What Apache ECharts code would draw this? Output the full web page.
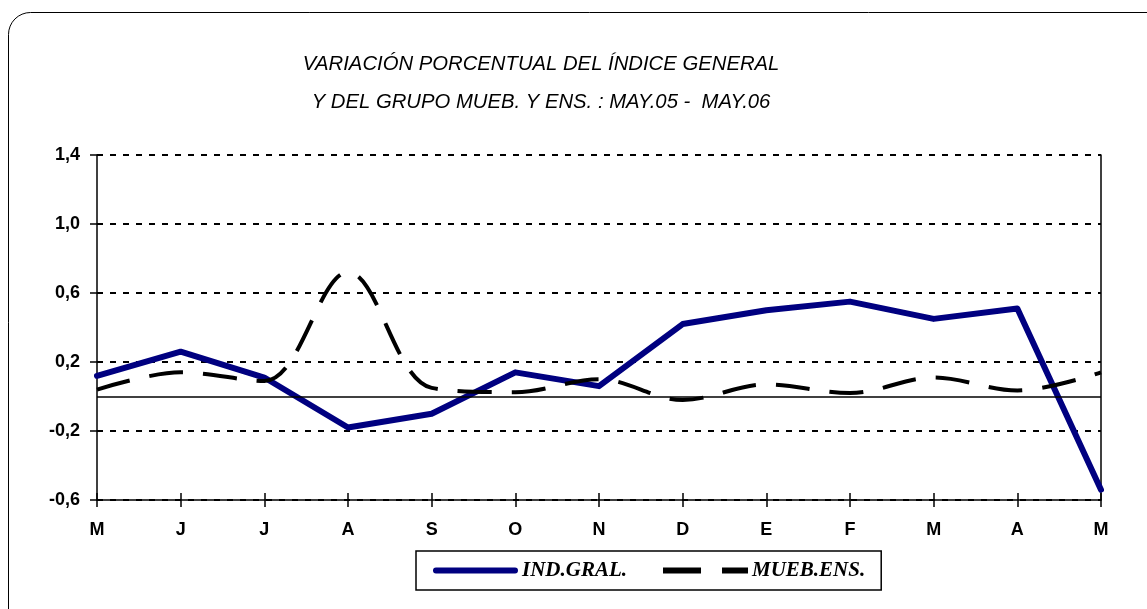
<!DOCTYPE html>
<html>
<head>
<meta charset="utf-8">
<script src="https://cdn.jsdelivr.net/npm/echarts@6/dist/echarts.min.js"></script>
<style>
  html, body { margin: 0; padding: 0; background: #fff; }
  #main { width: 1147px; height: 609px; }
</style>
</head>
<body>
<div id="main"></div>
<script>
// meses may.05 - may.06
var months = ['M', 'J', 'J', 'A', 'S', 'O', 'N', 'D', 'E', 'F', 'M', 'A', 'M'];
var indGral = [0.12, 0.26, 0.11, -0.18, -0.10, 0.14, 0.06, 0.42, 0.50, 0.55, 0.45, 0.51, -0.54];
var muebEns = [0.04, 0.14, 0.09, 0.72, 0.05, 0.025, 0.10, -0.02, 0.07, 0.02, 0.11, 0.035, 0.14];
var yMin = -0.6, yMax = 1.4, yStep = 0.4;

var myChart = echarts.init(document.getElementById('main'));

var labelFont = {
  color: '#000',
  fontFamily: 'Liberation Sans, Arial, sans-serif',
  fontWeight: 'bold',
  fontSize: 18
};

// iconos de la leyenda (linea continua / linea a trazos)
var iconSolid = 'path://M3,0 H83 A3,3 0 0 1 83,6 H3 A3,3 0 0 1 3,0 Z';
var iconDash = 'path://M0,0 H38 V6 H0 Z M59,0 H85 V6 H59 Z';

var option = {
  backgroundColor: '#fff',
  animation: false,
  title: {
    text: 'VARIACIÓN PORCENTUAL DEL ÍNDICE GENERAL\nY DEL GRUPO MUEB. Y ENS. : MAY.05 -  MAY.06',
    left: 536,
    top: 40,
    textAlign: 'center',
    textStyle: {
      fontFamily: 'Liberation Sans, Arial, sans-serif',
      fontStyle: 'italic',
      fontWeight: 'normal',
      fontSize: 20.3,
      lineHeight: 38,
      color: '#000'
    }
  },
  graphic: [
    {
      // marco redondeado del grafico
      type: 'rect',
      shape: { x: 8.5, y: 12.5, width: 1200, height: 700, r: 22 },
      style: { fill: 'none', stroke: '#000', lineWidth: 1 },
      z: -1
    }
  ],
  legend: {
    left: 416,
    top: 551,
    itemWidth: 85,
    itemHeight: 6,
    itemGap: 36,
    padding: [9, 16, 9, 17],
    borderColor: '#000',
    borderWidth: 1.5,
    textStyle: {
      fontFamily: 'Liberation Serif, Times New Roman, serif',
      fontStyle: 'italic',
      fontWeight: 'bold',
      fontSize: 21,
      color: '#000',
      padding: [0, 0, 0, -1]
    },
    data: [
      { name: 'IND.GRAL.', icon: iconSolid, itemStyle: { color: '#000080' } },
      { name: 'MUEB.ENS.', icon: iconDash, itemStyle: { color: '#000' } }
    ]
  },
  grid: {
    left: 97,
    right: 46,
    top: 155,
    bottom: 109
  },
  xAxis: [
    {
      type: 'category',
      boundaryGap: false,
      data: months,
      axisLine: { onZero: false, lineStyle: { color: '#000', width: 1.5 } },
      axisTick: { show: true, length: 7, lineStyle: { color: '#000', width: 1.5 } },
      axisLabel: Object.assign({ margin: 21 }, labelFont),
      splitLine: { show: false }
    },
    {
      // marcas hacia dentro del eje X
      type: 'category',
      boundaryGap: false,
      data: months,
      position: 'bottom',
      axisLine: { show: false, onZero: false },
      axisTick: { show: true, inside: true, length: 7, lineStyle: { color: '#000', width: 1.5 } },
      axisLabel: { show: false },
      splitLine: { show: false }
    }
  ],
  yAxis: [
    {
      type: 'value',
      min: yMin,
      max: yMax,
      interval: yStep,
      axisLine: { show: true, onZero: false, lineStyle: { color: '#000', width: 1.5 } },
      axisTick: { show: true, length: 7, lineStyle: { color: '#000', width: 1.5 } },
      axisLabel: Object.assign({
        margin: 17,
        formatter: function (v) {
          return (Math.round(v * 10) / 10).toFixed(1).replace('.', ',');
        }
      }, labelFont),
      splitLine: {
        show: true,
        lineStyle: { color: '#000', width: 2, type: [6, 7] }
      }
    },
    {
      // borde derecho del area de trazado
      type: 'value',
      position: 'right',
      min: yMin,
      max: yMax,
      interval: yStep,
      axisLine: { show: true, onZero: false, lineStyle: { color: '#000', width: 1.5 } },
      axisTick: { show: false },
      axisLabel: { show: false },
      splitLine: { show: false }
    },
    {
      // marcas hacia dentro del eje Y
      type: 'value',
      position: 'left',
      min: yMin,
      max: yMax,
      interval: yStep,
      axisLine: { show: false, onZero: false },
      axisTick: { show: true, inside: true, length: 4, lineStyle: { color: '#000', width: 1.5 } },
      axisLabel: { show: false },
      splitLine: { show: false }
    }
  ],
  series: [
    {
      name: 'IND.GRAL.',
      type: 'line',
      data: indGral,
      symbol: 'none',
      color: '#000080',
      lineStyle: { color: '#000080', width: 6, cap: 'round', join: 'round' },
      z: 3,
      markLine: {
        silent: true,
        symbol: 'none',
        label: { show: false },
        lineStyle: { color: '#000', width: 1.5, type: 'solid' },
        data: [{ yAxis: 0 }]
      }
    },
    {
      name: 'MUEB.ENS.',
      type: 'line',
      data: muebEns,
      symbol: 'none',
      smooth: 0.35,
      color: '#000',
      lineStyle: { color: '#000', width: 4, type: [34, 20] },
      z: 4
    }
  ]
};

myChart.setOption(option);
</script>
</body>
</html>
